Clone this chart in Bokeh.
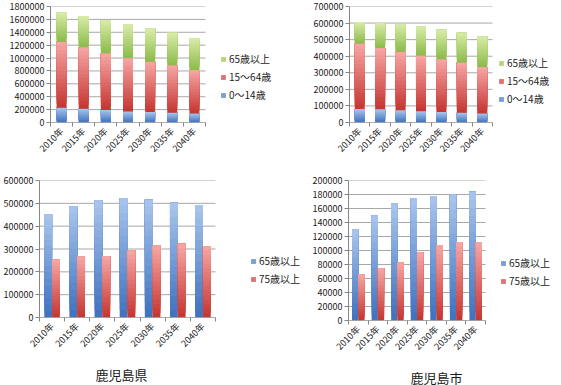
import numpy as np
from bokeh.plotting import figure
from bokeh.layouts import column, row
from bokeh.models import (Range1d, FixedTicker, BasicTickFormatter, Legend, LegendItem,
                          ColumnDataSource, Title)
from bokeh.embed import file_html
from bokeh.resources import INLINE

years = ["2010年", "2015年", "2020年", "2025年", "2030年", "2035年", "2040年"]

# 鹿児島県 (prefecture)
pref_0_14 = [229000, 215000, 195000, 172000, 161000, 151000, 141000]
pref_15_64 = [1025000, 951000, 878000, 828000, 780000, 737000, 674000]
pref_65 = [452000, 486000, 513000, 523000, 516000, 503000, 493000]
pref_75 = [254000, 267000, 269000, 293000, 316000, 323000, 313000]

# 鹿児島市 (city)
city_0_14 = [82000, 80000, 74000, 68000, 63000, 59000, 55000]
city_15_64 = [395000, 370000, 353000, 337000, 319000, 303000, 280000]
city_65 = [130000, 150000, 167000, 175000, 178000, 180000, 184000]
city_75 = [66000, 75000, 83000, 97000, 108000, 112000, 112000]

FONT = "Noto Sans CJK JP"
GRAD = {
    "blue": ((62, 112, 190), (170, 198, 236)),
    "red": ((196, 52, 48), (247, 168, 166)),
    "green": ((138, 186, 72), (218, 236, 170)),
}
K = 16
N = len(years)


def hexcol(c):
    return "#%02x%02x%02x" % tuple(int(round(v)) for v in c)


def grad_source(xs, bottoms, tops, grad):
    dark, light = grad
    X, B, T, C = [], [], [], []
    for k in range(K):
        fm = (k + 0.5) / K
        col = hexcol([d + (l - d) * fm for d, l in zip(dark, light)])
        for x, b, t in zip(xs, bottoms, tops):
            X.append(float(x))
            B.append(b + (t - b) * k / K)
            T.append(t)
            C.append(col)
    return ColumnDataSource(dict(x=X, bottom=B, top=T, color=C))


def base_fig(plot_w, extra_w, fh, ymax, ystep, bl, bt, bb):
    # the frame covers the bar area plus a blank strip on the right for the legend
    x_end = N - 0.5 + extra_w * N / plot_w
    p = figure(frame_width=plot_w + extra_w, frame_height=fh,
               x_range=Range1d(-0.5, x_end), y_range=Range1d(0, ymax),
               output_backend="svg", toolbar_location=None,
               min_border_left=bl, min_border_right=0, min_border_top=bt,
               min_border_bottom=bb)
    p.outline_line_color = None
    p.background_fill_color = "white"
    p.border_fill_color = "white"
    p.grid.grid_line_color = None
    yt = list(range(0, ymax + 1, ystep))
    # horizontal gridlines over the bar area only
    p.segment(x0=[-0.5] * len(yt), x1=[N - 0.5] * len(yt), y0=yt, y1=yt,
              line_color="#a8a8a8", line_width=1)
    ya = p.yaxis[0]
    ya.ticker = FixedTicker(ticks=yt)
    ya.formatter = BasicTickFormatter(use_scientific=False)
    ya.major_tick_out = 4
    ya.major_tick_in = 0
    ya.minor_tick_out = 0
    ya.axis_line_color = "#868686"
    ya.major_tick_line_color = "#868686"
    ya.major_label_text_font = FONT
    ya.major_label_text_font_size = "9px"
    ya.major_label_text_color = "#1a1a1a"
    ya.major_label_standoff = 2
    xa = p.xaxis[0]
    xa.ticker = FixedTicker(ticks=list(range(N)),
                            minor_ticks=[i - 0.5 for i in range(N + 1)])
    xa.major_label_overrides = {i: y for i, y in enumerate(years)}
    xa.major_tick_out = 0
    xa.major_tick_in = 0
    xa.minor_tick_out = 4
    xa.minor_tick_in = 0
    xa.minor_tick_line_color = "#868686"
    xa.axis_line_color = None
    xa.major_label_orientation = np.pi / 4
    xa.major_label_text_font = FONT
    xa.major_label_text_font_size = "9px"
    xa.major_label_text_color = "#1a1a1a"
    xa.major_label_standoff = 3
    return p


def finish(p):
    # category-axis baseline over the bar area
    p.segment(x0=[-0.5], x1=[N - 0.5], y0=[0], y1=[0], line_color="#868686",
              line_width=1)


def add_legend(p, items, loc):
    lg = Legend(items=items, location=loc, orientation="vertical",
                label_text_font=FONT, label_text_font_size="10px",
                label_text_color="#1a1a1a", glyph_width=6, glyph_height=6,
                label_standoff=3, spacing=3, padding=0, margin=0,
                border_line_color=None, background_fill_alpha=0,
                label_height=10)
    p.add_layout(lg)


xs = list(range(N))
b0 = [0] * N


def stacked(p, s0, s1, s2, w, loc):
    t0 = list(s0)
    t1 = [a + b for a, b in zip(t0, s1)]
    t2 = [a + b for a, b in zip(t1, s2)]
    rs = []
    for bot, top, g in [(b0, t0, "blue"), (t0, t1, "red"), (t1, t2, "green")]:
        src = grad_source(xs, bot, top, GRAD[g])
        rs.append(p.vbar(x="x", bottom="bottom", top="top", width=w, source=src,
                         fill_color="color", line_color=None))
    finish(p)
    mid = (K // 2) * N
    add_legend(p, [LegendItem(label="65歳以上", renderers=[rs[2]], index=mid),
                   LegendItem(label="15～64歳", renderers=[rs[1]], index=mid),
                   LegendItem(label="0～14歳", renderers=[rs[0]], index=mid)], loc)


def clustered(p, s65, s75, w, loc):
    src65 = grad_source([x - w / 2 for x in xs], b0, s65, GRAD["blue"])
    src75 = grad_source([x + w / 2 for x in xs], b0, s75, GRAD["red"])
    r1 = p.vbar(x="x", bottom="bottom", top="top", width=w, source=src65,
                fill_color="color", line_color=None)
    r2 = p.vbar(x="x", bottom="bottom", top="top", width=w, source=src75,
                fill_color="color", line_color=None)
    finish(p)
    mid = (K // 2) * N
    add_legend(p, [LegendItem(label="65歳以上", renderers=[r1], index=mid),
                   LegendItem(label="75歳以上", renderers=[r2], index=mid)], loc)


# ---- chart 1: prefecture stacked ----
p1 = base_fig(155, 78, 116, 1800000, 200000, 50, 6, 53)
stacked(p1, pref_0_14, pref_15_64, pref_65, 0.45, (170, 20))

# ---- chart 2: city stacked ----
p2 = base_fig(143, 61, 116, 700000, 100000, 66, 6, 53)
stacked(p2, city_0_14, city_15_64, city_65, 0.49, (149, 16))

# ---- chart 3: prefecture elderly ----
p3 = base_fig(176, 90, 137, 600000, 100000, 38, 5, 52)
clustered(p3, pref_65, pref_75, 0.31, (211, 31))
p3.add_layout(Title(text="鹿児島県", align="left", offset=56, text_font=FONT,
                    text_font_size="13px", text_font_style="normal",
                    text_color="#1a1a1a"), "below")

# ---- chart 4: city elderly ----
p4 = base_fig(137, 69, 140, 200000, 20000, 43, 5, 49)
clustered(p4, city_65, city_75, 0.32, (152, 32))
p4.add_layout(Title(text="鹿児島市", align="left", offset=62, text_font=FONT,
                    text_font_size="13px", text_font_style="normal",
                    text_color="#1a1a1a"), "below")

layout = column(row(p1, p2), row(p3, p4))
open("out.html", "w").write(file_html(layout, INLINE))
